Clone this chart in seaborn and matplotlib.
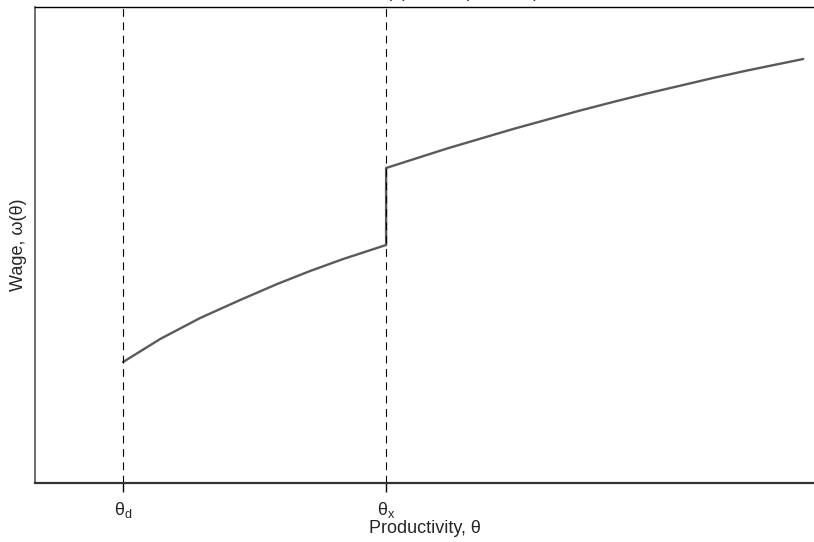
import matplotlib
matplotlib.use("Agg")
import matplotlib.pyplot as plt
import seaborn as sns
import pandas as pd

# Wage schedule: domestic-only firms (theta_d to theta_x) and exporters (above theta_x)
theta_d = 1.0
theta_x = 2.0
theta_low = [1.000, 1.141, 1.293, 1.445, 1.586, 1.711, 1.837, 2.000]
wage_low = [1.21, 1.44, 1.65, 1.83, 1.99, 2.12, 2.24, 2.38]
theta_high = [2.000, 2.232, 2.483, 2.738, 2.863, 2.992, 3.243, 3.373, 3.586]
wage_high = [3.15, 3.345, 3.54, 3.725, 3.81, 3.895, 4.05, 4.125, 4.24]
tick_labels = ["θ$_{d}$", "θ$_{x}$"]

sns.set_style("white")
plt.rcParams["font.family"] = ["Liberation Sans", "DejaVu Sans"]
plt.rcParams["mathtext.default"] = "regular"

df = pd.DataFrame({
    "theta": theta_low + theta_high,
    "wage": wage_low + wage_high,
})

fig = plt.figure(figsize=(8.14, 5.42), dpi=100)
ax = fig.add_axes([35 / 814, 59 / 542, 779 / 814, 476 / 542])

sns.lineplot(data=df, x="theta", y="wage", sort=False, estimator=None,
             color="#5a5a5a", linewidth=1.7, ax=ax)

for t in (theta_d, theta_x):
    ax.axvline(t, color="black", linewidth=0.8, linestyle=(0, (7, 5)))

ax.set_xlim(0.665, 3.627)
ax.set_ylim(0, 4.76)
ax.set_xticks([theta_d, theta_x])
ax.set_xticklabels(tick_labels, fontsize=13)
ax.set_yticks([])
ax.tick_params(axis="x", direction="out", length=6.5, width=1, color="black",
               pad=6, bottom=True)
ax.set_xlabel("Productivity, θ", fontsize=13, labelpad=0)
ax.set_ylabel("Wage, ω(θ)", fontsize=13, labelpad=6)

ax.spines["right"].set_visible(False)
ax.spines["top"].set_color("black")
ax.spines["top"].set_linewidth(1.0)
ax.spines["bottom"].set_color("#333333")
ax.spines["bottom"].set_linewidth(1.6)
ax.spines["left"].set_color("#555555")
ax.spines["left"].set_linewidth(1.2)

# Plot title sits above the canvas edge; only its lowest strokes remain visible
fig.text(372 / 814, 1.0 + 3 / 542, "ω(θ) and θ (θd to θx)", fontsize=13,
         ha="left", va="baseline")

fig.savefig("out.png", dpi=100)
